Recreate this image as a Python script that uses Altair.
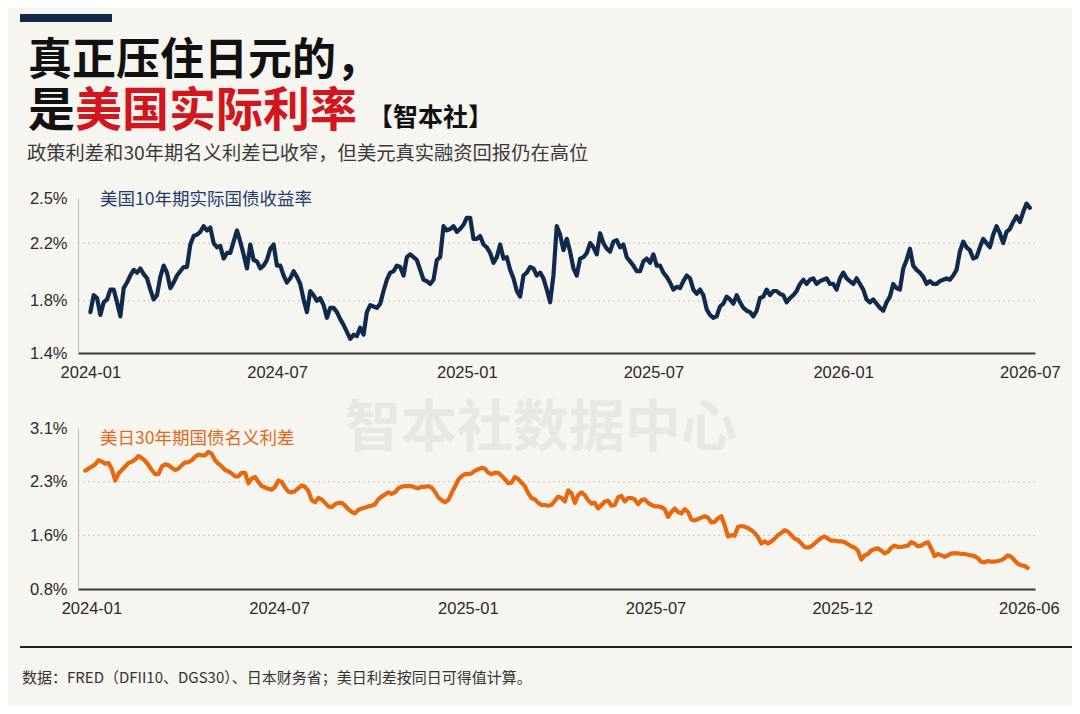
import altair as alt
import pandas as pd

# ---------------- text ----------------
TITLE_LINE1 = "真正压住日元的，"
TITLE_LINE2_BLACK = "是"
TITLE_LINE2_RED = "美国实际利率"
TITLE_BRAND = "【智本社】"
SUBTITLE = "政策利差和30年期名义利差已收窄，但美元真实融资回报仍在高位"
TOP_LABEL = "美国10年期实际国债收益率"
BOT_LABEL = "美日30年期国债名义利差"
WATERMARK = "智本社数据中心"
FOOTER = "数据：FRED（DFII10、DGS30）、日本财务省；美日利差按同日可得值计算。"

# ---------------- data ----------------
TOP_START, TOP_END = "2024-01-02", "2026-07-01"
TOP_VALUES = [
    1.69, 1.81, 1.79, 1.67, 1.76, 1.78, 1.85, 1.85, 1.76, 1.66,
    1.86, 1.90, 1.95, 1.99, 1.97, 2.00, 1.96, 1.93, 1.85, 1.78,
    1.81, 1.94, 2.02, 1.97, 1.86, 1.90, 1.95, 1.98, 2.01, 2.01,
    2.17, 2.23, 2.24, 2.26, 2.30, 2.27, 2.29, 2.18, 2.15, 2.16,
    2.07, 2.11, 2.11, 2.19, 2.27, 2.19, 2.10, 2.00, 2.17, 2.06,
    2.05, 2.00, 2.02, 2.06, 2.14, 2.17, 2.02, 2.02, 1.95, 1.90,
    1.93, 1.98, 1.94, 1.89, 1.78, 1.69, 1.84, 1.81, 1.77, 1.79,
    1.74, 1.65, 1.72, 1.72, 1.69, 1.64, 1.60, 1.55, 1.50, 1.53,
    1.52, 1.58, 1.53, 1.69, 1.74, 1.73, 1.72, 1.75, 1.84, 1.92,
    1.97, 1.98, 2.02,
    2.01, 1.95, 2.08, 2.10, 2.08, 2.06, 1.99, 1.92, 1.91, 1.89,
    1.92, 2.06, 2.08, 2.30, 2.27, 2.28, 2.30, 2.26, 2.28, 2.31,
    2.36, 2.36, 2.21, 2.21, 2.23, 2.17, 2.15, 2.11, 2.04, 2.08,
    2.17, 2.07, 2.08, 1.99, 1.93, 1.84, 1.80, 1.95, 1.97, 2.01,
    2.00, 1.95, 1.97, 1.93, 1.85, 1.76, 1.95, 2.30, 2.24, 2.13,
    2.21, 2.12, 2.00, 1.95, 2.07, 2.08, 2.11, 2.18, 2.15, 2.10,
    2.25, 2.18, 2.14, 2.12, 2.19, 2.20, 2.15, 2.17, 2.08, 2.05,
    2.02, 1.98, 1.98, 2.05, 2.07, 2.04, 2.10, 2.02, 2.02, 1.97,
    1.94, 1.90, 1.85, 1.87, 1.86, 1.91, 1.95, 1.93, 1.85, 1.82,
    1.85, 1.81, 1.71,
    1.67, 1.65, 1.66, 1.73, 1.75, 1.80, 1.78, 1.75, 1.81, 1.76,
    1.72, 1.70, 1.69, 1.66, 1.70, 1.79, 1.80, 1.85, 1.81, 1.84,
    1.84, 1.82, 1.81, 1.76, 1.79, 1.81, 1.84, 1.89, 1.92, 1.89,
    1.92, 1.93, 1.89, 1.91, 1.92, 1.93, 1.89, 1.89, 1.85, 1.93,
    1.97, 1.93, 1.91, 1.89, 1.93, 1.89, 1.85, 1.78, 1.76, 1.78,
    1.75, 1.72, 1.70, 1.76, 1.80, 1.89, 1.86, 1.85, 2.00, 2.06,
    2.14, 2.02, 1.99, 1.97, 1.94, 1.89, 1.91, 1.89, 1.89, 1.91,
    1.92, 1.93, 1.92, 1.95, 1.99, 2.12, 2.19, 2.15, 2.13, 2.07,
    2.08, 2.15, 2.21, 2.18, 2.15, 2.24, 2.30, 2.25, 2.18, 2.26,
    2.28, 2.33, 2.37, 2.33, 2.40, 2.46, 2.43,
]

BOT_START, BOT_END = "2023-12-28", "2026-06-29"
BOT_VALUES = [
    2.49, 2.52, 2.55, 2.58, 2.64, 2.62, 2.59, 2.60, 2.51, 2.35,
    2.45, 2.50, 2.55, 2.60, 2.62, 2.65, 2.70, 2.67, 2.63, 2.57,
    2.50, 2.44, 2.44, 2.55, 2.58, 2.57, 2.53, 2.50, 2.52, 2.57,
    2.61, 2.61, 2.64, 2.69, 2.72, 2.71, 2.71, 2.76, 2.73, 2.64,
    2.59, 2.55, 2.50, 2.48, 2.45, 2.41, 2.41, 2.46, 2.46, 2.31,
    2.38, 2.40, 2.33, 2.27, 2.25, 2.23, 2.22, 2.26, 2.35, 2.33,
    2.25, 2.19, 2.18, 2.20, 2.24, 2.28, 2.26, 2.20, 2.07, 2.04,
    2.10, 2.08, 2.03, 1.98, 1.97, 2.01, 2.03, 2.03, 1.99, 1.94,
    1.90, 1.88, 1.93, 1.95, 1.96, 1.98, 1.99, 2.01, 2.08, 2.12,
    2.15, 2.18, 2.16, 2.18, 2.24, 2.26, 2.27, 2.27, 2.27, 2.25,
    2.24, 2.26, 2.26, 2.27, 2.25, 2.19, 2.11, 2.07, 2.04, 2.07,
    2.17, 2.26, 2.36, 2.41, 2.44, 2.44, 2.45, 2.49, 2.51, 2.53,
    2.52, 2.46, 2.44, 2.46, 2.46, 2.42, 2.37, 2.31, 2.32, 2.40,
    2.37, 2.32, 2.27, 2.17, 2.10, 2.08, 2.03, 2.00, 2.00, 1.99,
    2.00, 2.06, 2.12,
    2.10, 2.05, 2.21, 2.17, 2.03, 2.14, 2.18, 2.14, 2.07, 2.02,
    2.03, 1.95, 2.00, 2.05, 2.06, 1.99, 2.00, 2.11, 2.13, 2.05,
    2.10, 2.10, 2.08, 2.01, 2.07, 2.08, 2.03, 2.00, 1.98, 1.98,
    1.97, 1.94, 1.83, 1.90, 1.95, 1.90, 1.88, 1.94, 1.90, 1.79,
    1.78, 1.80, 1.82, 1.84, 1.82, 1.75, 1.76, 1.81, 1.84, 1.71,
    1.55, 1.57, 1.56, 1.69, 1.70, 1.69, 1.67, 1.64, 1.60, 1.54,
    1.45, 1.48, 1.45, 1.48, 1.52, 1.57, 1.60, 1.64, 1.62, 1.57,
    1.52,
    1.50, 1.45, 1.40, 1.39, 1.41, 1.45, 1.49, 1.53, 1.55, 1.52,
    1.49, 1.49, 1.48, 1.48, 1.47, 1.44, 1.41, 1.39, 1.35, 1.22,
    1.28, 1.30, 1.35, 1.37, 1.38, 1.35, 1.31, 1.33, 1.39, 1.42,
    1.40, 1.40, 1.41, 1.42, 1.47, 1.45, 1.41, 1.42, 1.45, 1.47,
    1.38, 1.27, 1.30, 1.28, 1.26, 1.28, 1.31, 1.31, 1.31, 1.30,
    1.30, 1.29, 1.28, 1.27, 1.24, 1.19, 1.18, 1.20, 1.19, 1.19,
    1.20, 1.21, 1.24, 1.28, 1.26, 1.21, 1.16, 1.14, 1.13, 1.10,
]

# axis ticks (labels shown: 1.4% 1.8% 2.2% 2.5% / 0.8% 1.6% 2.3% 3.1%)
TOP_Y_DOMAIN = [1.4, 2.5]
TOP_Y_TICKS = [1.4, 1.77, 2.18, 2.5]
BOT_Y_DOMAIN = [0.8, 3.1]
BOT_Y_TICKS = [0.8, 1.567, 2.333, 3.1]
X_DOMAIN = ["2023-12-21", "2026-07-06"]
TOP_X_TICKS = ["2024-01-02", "2024-07-01", "2025-01-01", "2025-07-01", "2026-01-01", "2026-07-01"]
BOT_X_TICKS = ["2024-01-03", "2024-07-03", "2025-01-02", "2025-07-03", "2025-12-31", "2026-06-30"]

# ---------------- style ----------------
OX = 70                      # left padding: plot origin sits at the y axis
W, H = 1064 - OX, 698
BG = "#f7f5f0"
NAVY = "#102a4e"
NAVY_TXT = "#1f3c6b"
ORANGE = "#e8680f"
ORANGE_TXT = "#e06a1a"
RED = "#d3161d"
CJK = "Noto Sans CJK SC"
NUM_FONT = "Liberation Sans Narrow, Liberation Sans, Arial, sans-serif"
X_RANGE = [0, 957]


def dt(s):
    y, m, d = (int(p) for p in s.split("-"))
    return alt.DateTime(year=y, month=m, date=d)


def panel(start, end, values, yticks, ydomain, xticks, yrange, color):
    df = pd.DataFrame({"date": pd.date_range(start, end, periods=len(values)), "value": values})
    xscale = alt.Scale(domain=[dt(s) for s in X_DOMAIN], range=X_RANGE)
    yscale = alt.Scale(domain=ydomain, range=yrange, zero=False, nice=False)
    yaxis = alt.Axis(
        orient="left", values=yticks, format=".1f",
        labelExpr="datum.label + '%'", title=None, grid=False,
        ticks=False, domainColor="#bdbab4", domainWidth=1,
        labelFont=NUM_FONT, labelFontSize=16.5, labelColor="#2a2a2a",
        labelPadding=11, labelOverlap=False)
    line = alt.Chart(df).mark_line(
        color=color, strokeWidth=4.2, strokeJoin="round", strokeCap="round"
    ).encode(
        x=alt.X("date:T", scale=xscale, axis=alt.Axis(
            orient="bottom", offset=yrange[0] - H, values=[dt(s) for s in xticks],
            format="%Y-%m", title=None, grid=False, ticks=False,
            domainColor="#3a3a3a", domainWidth=2, labelFlush=False,
            labelFont=NUM_FONT, labelFontSize=16.5, labelColor="#2a2a2a",
            labelPadding=11, labelOverlap=False)),
        y=alt.Y("value:Q", scale=yscale, axis=yaxis),
    )
    grid = alt.Chart(pd.DataFrame({"value": yticks[1:-1]})).mark_rule(
        color="#c9c6c0", strokeWidth=1, strokeDash=[2, 3]
    ).encode(
        y=alt.Y("value:Q", scale=yscale, axis=yaxis),
        x=alt.value(X_RANGE[0]), x2=alt.value(X_RANGE[1]),
    )
    return alt.layer(grid, line)


def text(s, x, y, size, color, weight="normal", align="left", font=CJK):
    return alt.Chart(pd.DataFrame({"t": [s]})).mark_text(
        align=align, baseline="middle", fontSize=size, font=font,
        fontWeight=weight, color=color
    ).encode(x=alt.value(x - OX), y=alt.value(y), text="t:N")


one = pd.DataFrame({"a": [0]})
bar = alt.Chart(one).mark_rect(color="#13294b").encode(
    x=alt.value(12 - OX), x2=alt.value(104 - OX), y=alt.value(6), y2=alt.value(14))
footer_rule = alt.Chart(one).mark_rule(color="#1e1e1e", strokeWidth=2).encode(
    x=alt.value(12 - OX), x2=alt.value(W), y=alt.value(639))

top_panel = panel(TOP_START, TOP_END, TOP_VALUES, TOP_Y_TICKS, TOP_Y_DOMAIN,
                  TOP_X_TICKS, [345, 190], NAVY)
bot_panel = panel(BOT_START, BOT_END, BOT_VALUES, BOT_Y_TICKS, BOT_Y_DOMAIN,
                  BOT_X_TICKS, [581, 420], ORANGE)

layers = [
    bar,
    text(TITLE_LINE1, 20, 54, 44, "#111111", "bold"),
    text(TITLE_LINE2_BLACK, 20, 104, 47, "#111111", "bold"),
    text(TITLE_LINE2_RED, 67, 104, 47, RED, "bold"),
    text(TITLE_BRAND, 360, 110, 25, "#111111", "bold"),
    text(SUBTITLE, 19, 146, 19.3, "#3a3a3a"),
    text(WATERMARK, 533, 421, 56, "#e9e7e2", "bold", align="center"),
    top_panel,
    bot_panel,
    text(TOP_LABEL, 92, 192, 17.5, NAVY_TXT),
    text(BOT_LABEL, 92, 431, 17.5, ORANGE_TXT),
    footer_rule,
    text(FOOTER, 14, 670, 15, "#333333"),
]

chart = alt.layer(*layers).resolve_scale(
    x="independent", y="independent"
).properties(
    width=W, height=H, background=BG,
    padding={"left": OX, "top": 0, "right": 0, "bottom": 0},
    autosize=alt.AutoSizeParams(type="none"),
).configure_view(stroke=None)

chart.save("out.html", embed_options={"renderer": "svg", "actions": False})
